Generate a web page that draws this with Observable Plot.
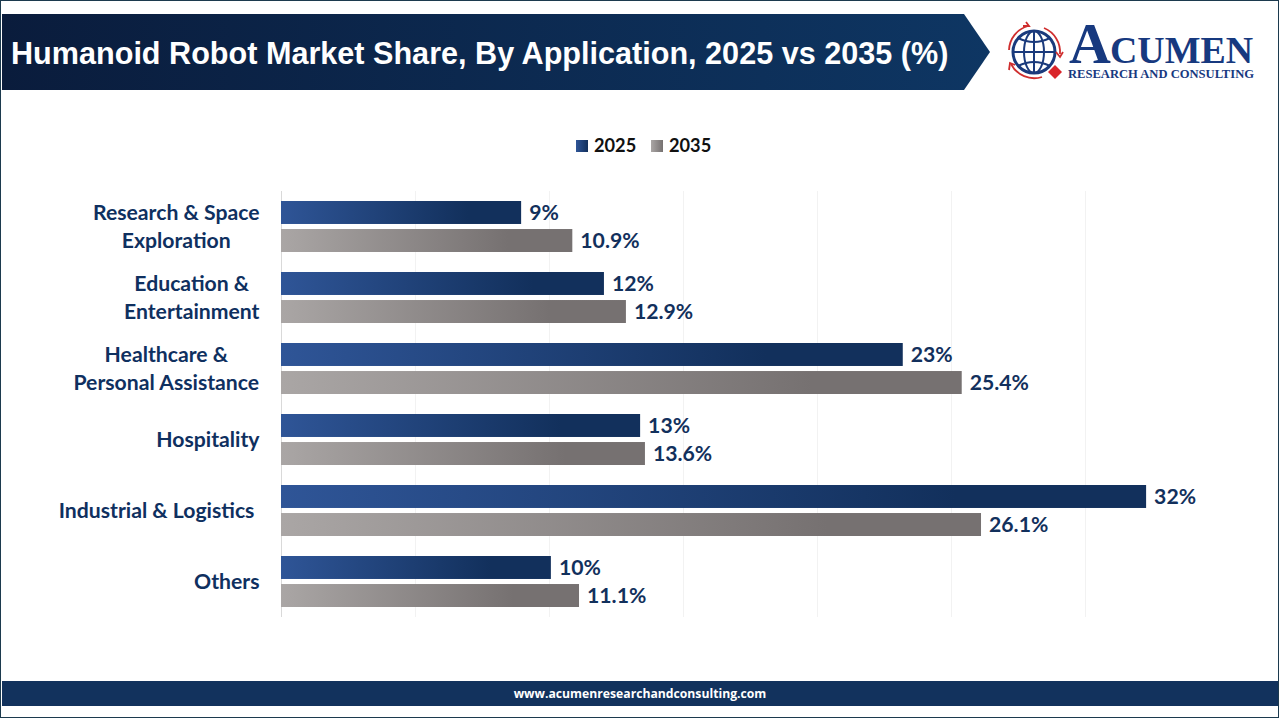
<!DOCTYPE html>
<html>
<head>
<meta charset="utf-8">
<script src="https://cdn.jsdelivr.net/npm/d3@7"></script>
<script src="https://cdn.jsdelivr.net/npm/@observablehq/plot@0.6"></script>
<style>
html,body{margin:0;padding:0;background:#fff}
#root{position:relative;width:1280px;height:720px;overflow:hidden;background:#fff}
#frame{position:absolute;left:0;top:0;width:1277px;height:715.5px;border:1.5px solid #1c3a4e}
#chart,#deco{position:absolute;left:0;top:0}
#chart svg{display:block;background:transparent}
.title{position:absolute;left:11px;top:34px;color:#fff;font:bold 30.6px/38px "Liberation Sans",sans-serif;white-space:nowrap}
.foot{position:absolute;left:2px;top:681px;width:1276px;height:25px;background:#12325d;color:#fff;font:bold 12.2px/25px "Open Sans",sans-serif;text-align:center;white-space:nowrap}
.leg{position:absolute;top:135px;font:bold 18.2px/20px Lato,sans-serif;color:#111;white-space:nowrap}
.sw{position:absolute;top:140px;width:12px;height:12px}
</style>
</head>
<body>
<div id="root">
  <svg id="deco" width="1280" height="720" xmlns="http://www.w3.org/2000/svg">
    <defs>
      <linearGradient id="banner" x1="0" x2="1" y1="0" y2="0">
        <stop offset="0" stop-color="#0a1c3c"/><stop offset="1" stop-color="#0e3663"/>
      </linearGradient>
    </defs>
    <polygon points="2,14 964,14 990,52 964,90 2,90" fill="url(#banner)"/>
    <g fill="none" stroke="#1a3a7c">
      <circle cx="1034" cy="52" r="21" stroke-width="3"/>
      <ellipse cx="1034" cy="52" rx="10" ry="21" stroke-width="2"/>
      <line x1="1034" y1="31" x2="1034" y2="73" stroke-width="2"/>
      <line x1="1013" y1="52" x2="1055" y2="52" stroke-width="2"/>
      <path d="M1018 38Q1034 46 1050 38M1018 66Q1034 58 1050 66" stroke-width="2"/>
    </g>
    <g fill="none" stroke="#cf2e2e" stroke-width="1.8">
      <path d="M1009 50A26 26 0 0 1 1028 26"/>
      <path d="M1023 26L1029 26L1026 22"/>
      <path d="M1044 28A26 26 0 0 1 1060 54"/>
      <path d="M1056 52L1060 57L1063 52"/>
      <path d="M1042 77A26 26 0 0 1 1011 64"/>
      <path d="M1009 70L1010 63L1015 65"/>
    </g>
    <polygon points="1055,65 1062,72 1055,79 1048,72" fill="#d9252a"/>
    <text x="1069" y="63" font-family="Liberation Serif" font-weight="bold" font-size="58" fill="#17397f">A</text>
    <text x="1110" y="63" font-family="Liberation Serif" font-weight="bold" font-size="37" fill="#17397f" textLength="143" lengthAdjust="spacingAndGlyphs">CUMEN</text>
    <text x="1068" y="78" font-family="Liberation Serif" font-weight="bold" font-size="12.5" fill="#17397f" textLength="186" lengthAdjust="spacingAndGlyphs">RESEARCH AND CONSULTING</text>
  </svg>
  <div class="title">Humanoid Robot Market Share, By Application, 2025 vs 2035 (%)</div>
  <div class="sw" style="left:576px;background:linear-gradient(90deg,#2f5597,#12305c)"></div>
  <div class="leg" style="left:594px">2025</div>
  <div class="sw" style="left:651px;background:linear-gradient(90deg,#aaa6a5,#767171)"></div>
  <div class="leg" style="left:669px">2035</div>
  <div id="chart"></div>
  <div class="foot">www.acumenresearchandconsulting.com</div>
  <div id="frame"></div>
</div>
<script>
const categories = ["Research & Space\nExploration","Education &\nEntertainment","Healthcare &\nPersonal Assistance","Hospitality","Industrial & Logistics ","Others"];
const years = ["2025","2035"];
// bar lengths
const share2025 = [8.96,12.05,23.2,13.4,32.28,10.07];
const share2035 = [10.87,12.87,25.4,13.58,26.12,11.12];
// labels as printed in the picture
const labels2025 = ["9%","12%","23%","13%","32%","10%"];
const labels2035 = ["10.9%","12.9%","25.4%","13.6%","26.1%","11.1%"];
const gridTicks = [5,10,15,20,25,30];

const rows = categories.flatMap((c,i)=>[
  {category:c,year:years[0],value:share2025[i],label:labels2025[i]},
  {category:c,year:years[1],value:share2035[i],label:labels2035[i]}
]);

const fontSize = 21.2;
const ctx = document.createElement("canvas").getContext("2d");
ctx.font = `bold ${fontSize}px Lato`;
function blockWidth(c){
  return Math.max(...c.split("\n").map(l=>ctx.measureText(l).width + (l.endsWith(" ")?5:0)));
}
const gradients = () => {
  const ns="http://www.w3.org/2000/svg";
  const defs=document.createElementNS(ns,"defs");
  const make=(id,a,b)=>{
    const g=document.createElementNS(ns,"linearGradient");
    g.setAttribute("id",id);
    [[0,a],[0.78,b],[1,b]].forEach(([o,c])=>{
      const s=document.createElementNS(ns,"stop");
      s.setAttribute("offset",o);s.setAttribute("stop-color",c);g.appendChild(s);
    });
    defs.appendChild(g);
  };
  make("g2025","#2f5597","#12305c");
  make("g2035","#aaa6a5","#767171");
  return defs;
};

const plot = Plot.plot({
  width:1280,height:720,
  marginLeft:281,marginRight:61,marginTop:191,marginBottom:103,
  style:{background:"transparent",overflow:"visible"},
  x:{domain:[0,35],axis:null},
  fy:{domain:categories,padding:0,axis:null,label:null,round:false},
  y:{domain:years,paddingInner:0.18,paddingOuter:0.357,axis:null,round:false},
  color:{domain:years,range:["url(#g2025)","url(#g2035)"]},
  marks:[
    gradients,
    Plot.gridX(gridTicks,{stroke:"#f2f2f2",strokeOpacity:1,strokeWidth:1}),
    Plot.ruleX([0],{stroke:"#d9d9d9",strokeWidth:1}),
    Plot.barX(rows,{x:"value",y:"year",fy:"category",fill:"year"}),
    Plot.text(rows,{x:"value",y:"year",fy:"category",text:"label",dx:7.5,textAnchor:"start",
      fill:"#12305c",fontFamily:"Lato",fontWeight:"bold",fontSize:fontSize}),
    ...categories.map(c=>Plot.text([c],{
      fy:d=>d,x:()=>0,text:d=>d.trim(),
      dx:-(blockWidth(c)/2+22),dy:-2,textAnchor:"middle",lineHeight:1.32,
      fill:"#0f305f",fontFamily:"Lato",fontWeight:"bold",fontSize:fontSize
    }))
  ]
});
document.getElementById("chart").appendChild(plot);
</script>
</body>
</html>
